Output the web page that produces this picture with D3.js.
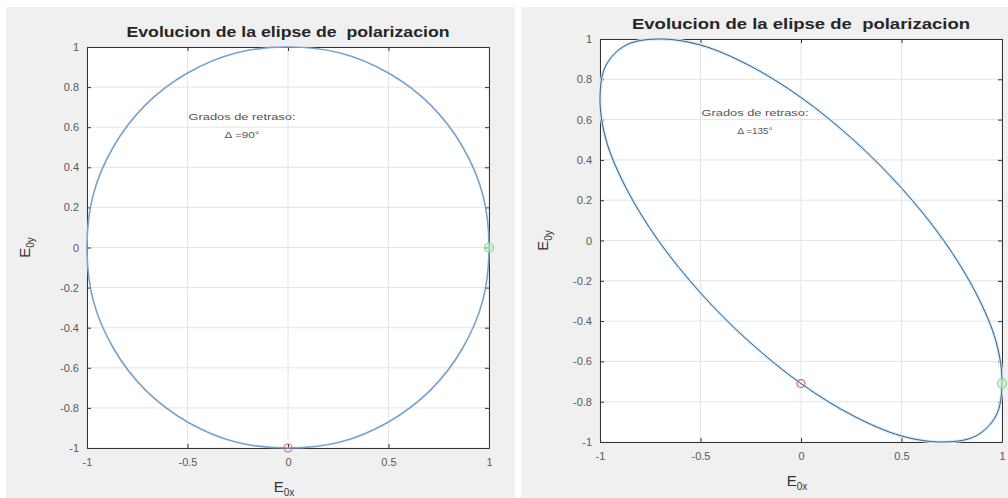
<!DOCTYPE html>
<html lang="es">
<head>
<meta charset="utf-8">
<title>Evolucion de la elipse de polarizacion</title>
<script src="https://d3js.org/d3.v7.min.js"></script>
<style>
  body { margin: 0; background: #fff; }
  svg { display: block; font-family: "Liberation Sans", Arial, sans-serif; }
  text { white-space: pre; }
</style>
</head>
<body>
<script>
// --- data ---
const xTicks = [-1, -0.5, 0, 0.5, 1];
const yTicks = [1, 0.8, 0.6, 0.4, 0.2, 0, -0.2, -0.4, -0.6, -0.8, -1];
const titleText = "Evolucion de la elipse de  polarizacion";
const retardos = ["\u0394 =90\u00b0", "\u0394 =135\u00b0"];

// points along each polarization curve (E0x, E0y)
const curve90 = [
  [1, 0], [0.97, 0.26], [0.87, 0.5], [0.71, 0.71], [0.5, 0.87], [0.26, 0.97],
  [0, 1], [-0.26, 0.97], [-0.5, 0.87], [-0.71, 0.71], [-0.87, 0.5], [-0.97, 0.26],
  [-1, 0], [-0.97, -0.26], [-0.87, -0.5], [-0.71, -0.71], [-0.5, -0.87], [-0.26, -0.97],
  [0, -1], [0.26, -0.97], [0.5, -0.87], [0.71, -0.71], [0.87, -0.5], [0.97, -0.26]
];
const curve135 = [
  [1, -0.71], [0.97, -0.87], [0.87, -0.97], [0.71, -1], [0.5, -0.97], [0.26, -0.87],
  [0, -0.71], [-0.26, -0.5], [-0.5, -0.26], [-0.71, 0], [-0.87, 0.26], [-0.97, 0.5],
  [-1, 0.71], [-0.97, 0.87], [-0.87, 0.97], [-0.71, 1], [-0.5, 0.97], [-0.26, 0.87],
  [0, 0.71], [0.26, 0.5], [0.5, 0.26], [0.71, 0], [0.87, -0.26], [0.97, -0.5]
];
// start (green) and reference (red) markers
const startPts = [[1, 0], [1, -0.71]];
const redPts = [[0, -1], [0, -0.71]];

const W = 1008, H = 498;
const svg = d3.select("body").append("svg").attr("width", W).attr("height", H);

const panels = [
  { bg: [6, 7, 509, 491], x: [87, 489], y: [448, 47], titleY: 37, titleW: 323, curve: curve90,
    stroke: "#76a3cc", sw: 1.6, note: [242, 117], ylabX: 30, retardo: retardos[0],
    start: startPts[0], red: redPts[0] },
  { bg: [521, 7, 487, 491], x: [600, 1002], y: [442, 39], titleY: 29, titleW: 338, curve: curve135,
    stroke: "#2f5f8c", sw: 1, note: [755, 113], ylabX: 548, retardo: retardos[1],
    start: startPts[1], red: redPts[1] }
];

const fmt = d => String(d);

panels.forEach(p => {
  const g = svg.append("g");
  g.append("rect").attr("x", p.bg[0]).attr("y", p.bg[1])
    .attr("width", p.bg[2]).attr("height", p.bg[3]).attr("fill", "#f0f0f0");

  const x = d3.scaleLinear().domain([-1, 1]).range(p.x);
  const y = d3.scaleLinear().domain([-1, 1]).range(p.y);

  g.append("rect").attr("x", p.x[0]).attr("y", p.y[1])
    .attr("width", p.x[1] - p.x[0]).attr("height", p.y[0] - p.y[1]).attr("fill", "#fff");

  // grid
  g.append("g").selectAll("line").data(xTicks).join("line")
    .attr("x1", d => x(d)).attr("x2", d => x(d)).attr("y1", p.y[0]).attr("y2", p.y[1])
    .attr("stroke", "#e4e4e4");
  g.append("g").selectAll("line").data(yTicks).join("line")
    .attr("y1", d => y(d)).attr("y2", d => y(d)).attr("x1", p.x[0]).attr("x2", p.x[1])
    .attr("stroke", "#e4e4e4");

  // axes (MATLAB-like inward ticks on all sides)
  const axCol = "#333";
  const axB = g.append("g").attr("transform", `translate(0,${p.y[0]})`)
    .call(d3.axisBottom(x).tickValues(xTicks).tickSizeInner(-4).tickSizeOuter(0).tickPadding(10).tickFormat(fmt));
  const axT = g.append("g").attr("transform", `translate(0,${p.y[1]})`)
    .call(d3.axisTop(x).tickValues(xTicks).tickSizeInner(-4).tickSizeOuter(0).tickFormat(""));
  const axL = g.append("g").attr("transform", `translate(${p.x[0]},0)`)
    .call(d3.axisLeft(y).tickValues(yTicks).tickSizeInner(-4).tickSizeOuter(0).tickPadding(8).tickFormat(fmt));
  const axR = g.append("g").attr("transform", `translate(${p.x[1]},0)`)
    .call(d3.axisRight(y).tickValues(yTicks).tickSizeInner(-4).tickSizeOuter(0).tickFormat(""));
  [axB, axT, axL, axR].forEach(a => {
    a.select(".domain").attr("stroke", axCol);
    a.selectAll(".tick line").attr("stroke", axCol);
    a.selectAll("text").attr("fill", "#595959").attr("font-size", 11);
  });

  // curve
  const line = d3.line().x(d => x(d[0])).y(d => y(d[1])).curve(d3.curveCatmullRomClosed.alpha(0.5));
  const clipId = "clip" + p.x[0];
  g.append("clipPath").attr("id", clipId).append("rect")
    .attr("x", p.x[0] - 1).attr("y", p.y[1] - 1)
    .attr("width", p.x[1] - p.x[0] + 2).attr("height", p.y[0] - p.y[1] + 2);
  if (p.sw < 1.5) {
    g.append("path").datum(p.curve).attr("d", line).attr("fill", "none")
      .attr("stroke", "#d3e9f7").attr("stroke-width", 3).attr("clip-path", `url(#${clipId})`);
  }
  g.append("path").datum(p.curve).attr("d", line).attr("fill", "none")
    .attr("stroke", p.stroke).attr("stroke-width", p.sw).attr("clip-path", `url(#${clipId})`);

  // markers
  g.append("circle").attr("cx", x(p.red[0])).attr("cy", y(p.red[1])).attr("r", 4)
    .attr("fill", "none").attr("stroke", "#e0606a").attr("stroke-width", 1.2);
  g.append("circle").attr("cx", x(p.start[0])).attr("cy", y(p.start[1])).attr("r", 4.5)
    .attr("fill", "#c8f0c8").attr("fill-opacity", 0.6).attr("stroke", "#7ee07e").attr("stroke-width", 1.2);

  // title
  g.append("text").attr("x", (p.x[0] + p.x[1]) / 2).attr("y", p.titleY)
    .attr("text-anchor", "middle").attr("font-weight", "bold").attr("font-size", 15)
    .attr("textLength", p.titleW).attr("lengthAdjust", "spacingAndGlyphs")
    .attr("fill", "#262626").text(titleText);

  // annotation
  g.append("text").attr("x", p.note[0]).attr("y", p.note[1] + 3).attr("text-anchor", "middle")
    .attr("font-size", 9.5).attr("textLength", 107).attr("lengthAdjust", "spacingAndGlyphs")
    .attr("fill", "#555").text("Grados de retraso:");
  g.append("text").attr("x", p.note[0]).attr("y", p.note[1] + 21).attr("text-anchor", "middle")
    .attr("font-size", 9.5).attr("textLength", 35).attr("lengthAdjust", "spacingAndGlyphs")
    .attr("fill", "#555").text(p.retardo);

  // axis labels
  const cx = (p.x[0] + p.x[1]) / 2, cy = (p.y[0] + p.y[1]) / 2;
  const xl = g.append("text").attr("x", cx - 4).attr("y", p.y[0] + 44)
    .attr("text-anchor", "middle").attr("font-size", 15).attr("fill", "#333");
  xl.append("tspan").text("E");
  xl.append("tspan").attr("font-size", 10).attr("dy", 4).text("0x");
  const yl = g.append("text").attr("transform", `translate(${p.ylabX},${cy}) rotate(-90)`)
    .attr("text-anchor", "middle").attr("font-size", 15).attr("fill", "#333");
  yl.append("tspan").text("E");
  yl.append("tspan").attr("font-size", 10).attr("dy", 4).text("0y");
});
</script>
</body>
</html>
